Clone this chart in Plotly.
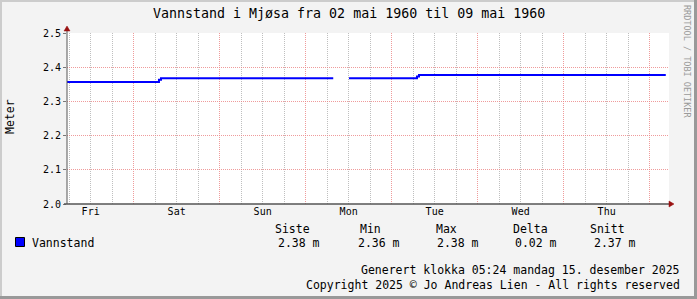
import plotly.graph_objects as go

# ---- data ----
times = ["1960-04-29 05:24", "1960-04-30 07:04", "1960-04-30 07:38",
         "1960-05-02 07:42", "1960-05-02 07:43", "1960-05-02 12:06",
         "1960-05-03 07:04", "1960-05-03 07:38", "1960-05-06 04:30"]
levels = [2.357, 2.363, 2.368, 2.368, None, 2.368, 2.373, 2.377, 2.377]
x_start = "1960-04-29 05:24"
x_end = "1960-05-06 05:24"
y_ticks = [2.0, 2.1, 2.2, 2.3, 2.4, 2.5]
stat_names = ["Siste", "Min", "Max", "Delta", "Snitt"]
stat_values = ["2.38 m", "2.36 m", "2.38 m", "0.02 m", "2.37 m"]
series_name = "Vannstand"
title_text = "Vannstand i Mjøsa fra 02 mai 1960 til 09 mai 1960"
footer1 = "Generert klokka 05:24 mandag 15. desember 2025"
footer2 = "Copyright 2025 © Jo Andreas Lien - All rights reserved"

# ---- geometry ----
WIDTH, HEIGHT = 697, 299
L, R, T, B = 67, 669, 33, 204
PW, PH = R - L, B - T


def px(x):
    return (x - L) / PW


def py(y):
    return (B - y) / PH


MONO = "DejaVu Sans Mono"

fig = go.Figure()
fig.add_trace(go.Scatter(
    x=times, y=levels, mode="lines", line=dict(color="#0000FF", width=2, shape="hv"),
    connectgaps=False, showlegend=False, hoverinfo="skip"))

major_grid = "rgba(235,130,130,0.8)"
minor_grid = "rgba(180,180,180,0.85)"

fig.update_layout(
    width=WIDTH, height=HEIGHT,
    margin=dict(l=L, r=WIDTH - R, t=T, b=HEIGHT - B, pad=0),
    paper_bgcolor="#F3F3F3", plot_bgcolor="#FFFFFF",
    showlegend=False,
    font=dict(family=MONO, size=10, color="#000000"),
    xaxis=dict(
        type="date", range=[x_start, x_end], dtick=86400000, tick0="1960-04-29",
        tickformat="%a", ticklabelmode="period", showline=False, zeroline=False,
        showgrid=True, gridcolor=major_grid, griddash="1px,1px", gridwidth=1,
        ticks="", tickfont=dict(family=MONO, size=10, color="#000"),
        minor=dict(dtick=21600000, showgrid=True, gridcolor=minor_grid,
                   griddash="1px,1px", gridwidth=1, ticks=""),
        fixedrange=True,
    ),
    yaxis=dict(
        range=[2.0, 2.5], tickvals=y_ticks, ticktext=[f"{v:.1f}" for v in y_ticks],
        showline=False, zeroline=False, showgrid=True, gridcolor=major_grid,
        griddash="1px,1px", gridwidth=1, ticks="outside", ticklen=3, tickcolor="#777",
        tickfont=dict(family=MONO, size=10, color="#000"), fixedrange=True,
    ),
)

shapes = []
# axis lines
shapes.append(dict(type="line", xref="paper", yref="paper", x0=px(67), x1=px(67),
                   y0=py(204), y1=py(30), line=dict(color="#555555", width=1)))
shapes.append(dict(type="line", xref="paper", yref="paper", x0=px(64), x1=px(670),
                   y0=py(204), y1=py(204), line=dict(color="#555555", width=1.5)))
# arrows
shapes.append(dict(type="path", xref="paper", yref="paper",
                   path=f"M {px(64)},{py(31)} L {px(70)},{py(31)} L {px(67)},{py(26)} Z",
                   fillcolor="#991111", line=dict(color="#991111", width=0.5)))
shapes.append(dict(type="path", xref="paper", yref="paper",
                   path=f"M {px(669)},{py(201)} L {px(669)},{py(207)} L {px(674)},{py(204)} Z",
                   fillcolor="#991111", line=dict(color="#991111", width=0.5)))
# legend box
shapes.append(dict(type="rect", xref="paper", yref="paper", x0=px(15.5), x1=px(24.5),
                   y0=py(246.5), y1=py(237.5), fillcolor="#0000FF",
                   line=dict(color="#000000", width=1)))
# outer 3D border
shapes.append(dict(type="rect", xref="paper", yref="paper", x0=px(0), x1=px(2),
                   y0=py(0), y1=py(299), fillcolor="#CCCCCC", line=dict(width=0)))
shapes.append(dict(type="rect", xref="paper", yref="paper", x0=px(0), x1=px(697),
                   y0=py(0), y1=py(2), fillcolor="#CCCCCC", line=dict(width=0)))
shapes.append(dict(type="rect", xref="paper", yref="paper", x0=px(694), x1=px(697),
                   y0=py(0), y1=py(299), fillcolor="#999999", line=dict(width=0)))
shapes.append(dict(type="rect", xref="paper", yref="paper", x0=px(0), x1=px(697),
                   y0=py(296), y1=py(299), fillcolor="#999999", line=dict(width=0)))
fig.update_layout(shapes=shapes)

ann = []


def text(x, y, s, size=11.5, xanchor="left", color="#000000", angle=0):
    ann.append(dict(x=px(x), y=py(y), xref="paper", yref="paper", text=s,
                    showarrow=False, xanchor=xanchor, yanchor="middle", borderpad=0,
                    textangle=angle, font=dict(family=MONO, size=size, color=color)))


text(349, 14, title_text, size=13.3, xanchor="center")
text(10, 117, "Meter", size=11.5, xanchor="center", angle=-90)
text(687, 61, "RRDTOOL / TOBI OETIKER", size=8.5, xanchor="center", color="#9A9A9A", angle=90)
text(31, 243, series_name)
head_centers = [292, 370, 446, 530, 607]
val_left = [277, 357, 436, 514, 593]
for name, c in zip(stat_names, head_centers):
    text(c, 229, name, xanchor="center")
for val, lft in zip(stat_values, val_left):
    text(lft, 243, val, xanchor="left")
text(681, 270, footer1, xanchor="right")
text(681, 285, footer2, xanchor="right")
fig.update_layout(annotations=ann)

fig.write_html("out.html")
